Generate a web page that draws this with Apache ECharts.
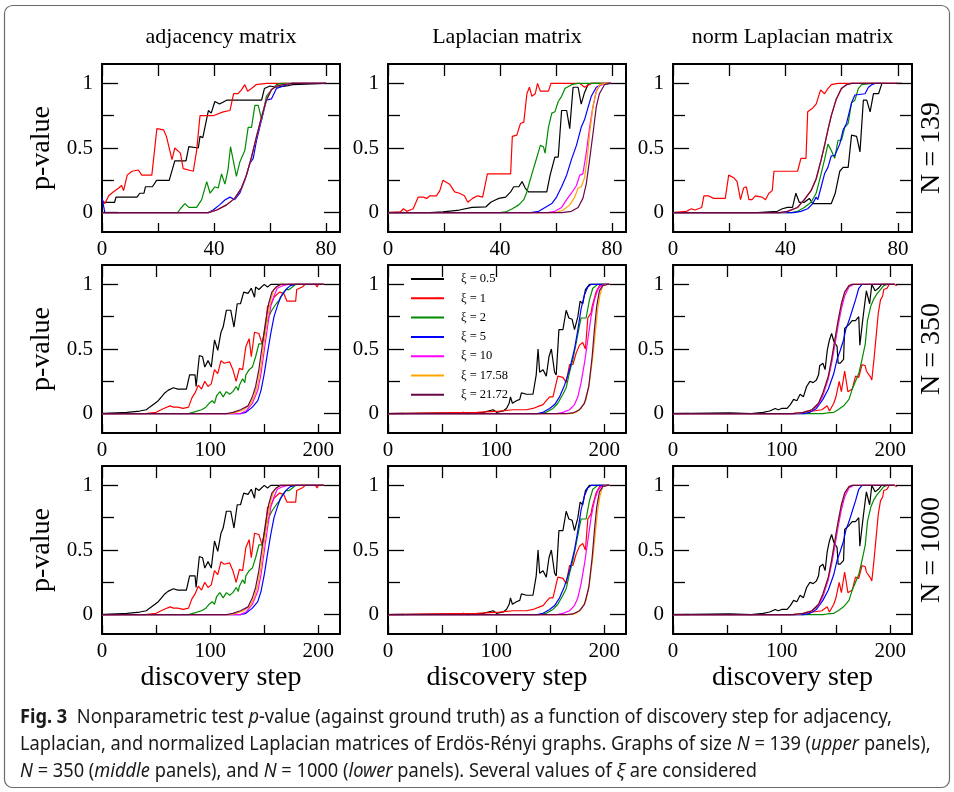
<!DOCTYPE html>
<html><head><meta charset="utf-8">
<script src="https://cdn.jsdelivr.net/npm/echarts@6/dist/echarts.min.js"></script>
<style>html,body{margin:0;padding:0;background:#fff}#c{width:954px;height:792px}</style>
</head><body><div id="c"></div><script>
// ---------- DATA ----------
const seriesNames = ['ξ = 0.5','ξ = 1','ξ = 2','ξ = 5','ξ = 10','ξ = 17.58','ξ = 21.72'];
const columnTitles = ['adjacency matrix','Laplacian matrix','norm Laplacian matrix'];
const rowLabels = ['N = 139','N = 350','N = 1000'];
const xAxisTitle = 'discovery step';
const yAxisTitle = 'p-value';
const xTickValuesSmall = [0,20,40,60,80];
const xLabelValuesSmall = [0,40,80];
const xTickValuesBig = [0,50,100,150,200];
const xLabelValuesBig = [0,100,200];
const yMajorValues = [0,0.5,1];
const yMinorValues = [0.25,0.75];

// adjacency, N = 139
const adj139_xi05 = [[0,0.08],[4.5,0.08],[5,0.12],[12.5,0.12],[13.5,0.15],[15,0.15],[15.5,0.2],[18,0.2],[19.5,0.25],[24,0.25],[26,0.4],[30,0.4],[31,0.51],[34.4,0.5],[35,0.59],[36,0.58],[38,0.79],[39,0.77],[40.3,0.86],[42,0.84],[44.5,0.87],[57,0.87],[58,0.96],[60,0.98],[62.3,0.97],[66,0.98],[68,0.99],[80,1]];
const adj139_xi1 = [[0,0.1],[1,0.07],[2.4,0.13],[4,0.16],[6,0.19],[7,0.21],[7.7,0.17],[9,0.29],[10.7,0.32],[13,0.33],[14.2,0.29],[17.8,0.29],[19.6,0.65],[22,0.64],[23,0.59],[25,0.41],[26,0.5],[28,0.46],[29,0.34],[32.6,0.32],[33.8,0.48],[35,0.75],[39.7,0.75],[43.3,0.78],[45.7,0.79],[47,0.92],[48.6,0.92],[49.8,0.95],[51,0.99],[52,0.94],[53.4,0.96],[55,0.99],[58.7,1],[80,1]];
const adj139_xi2 = [[0,0],[27,0],[28,0.03],[29.6,0.07],[31,0.04],[33.8,0.04],[35.6,0.1],[37.4,0.24],[38.6,0.15],[40.3,0.2],[41.5,0.19],[42.7,0.3],[43.9,0.22],[45,0.33],[45.9,0.51],[48,0.28],[49.2,0.39],[51,0.48],[52.2,0.66],[53.4,0.66],[54.6,0.83],[55.8,0.83],[57,0.72],[58.7,0.9],[60.5,0.95],[62.3,0.99],[64,1],[80,1]];
const adj139_xi5 = [[0,0.12],[1,0],[38,0],[39.7,0.02],[42,0.06],[44,0.1],[45.7,0.12],[47.4,0.1],[49.2,0.15],[51,0.25],[52.8,0.38],[54,0.42],[55.2,0.56],[57,0.72],[58.7,0.87],[60.5,0.88],[62.3,0.96],[66,0.99],[68,1],[80,1]];
const adj139_xi10 = [[0,0],[38,0],[41,0.02],[44.5,0.06],[47.4,0.11],[49.8,0.19],[51.6,0.29],[53.4,0.43],[55.2,0.59],[57,0.74],[58.7,0.87],[60.5,0.95],[62.3,0.98],[64.6,0.99],[68,1],[80,1]];
const adj139_xi1758 = adj139_xi10;
const adj139_xi2172 = adj139_xi10;

// Laplacian, N = 139
const lap139_xi05 = [[0,0],[15,0],[19.6,0.005],[25.5,0.02],[30,0.04],[35,0.045],[36.7,0.08],[38.5,0.1],[39.6,0.11],[42,0.12],[43.8,0.16],[44.9,0.2],[46.7,0.2],[47.9,0.24],[49,0.19],[50.2,0.16],[56.7,0.16],[57.9,0.29],[59.6,0.43],[60.8,0.43],[62,0.79],[63.8,0.79],[64.9,0.65],[66.1,0.97],[67.9,0.97],[69,0.84],[70.2,0.93],[71.4,0.99],[72.6,1],[79.6,1]];
const lap139_xi1 = [[0,0],[4.4,0.005],[5.5,0.03],[6.7,0.01],[9,0.03],[10.8,0.12],[12.6,0.12],[13.8,0.11],[15,0.13],[17.3,0.13],[18.5,0.17],[19.6,0.25],[22,0.22],[23.8,0.16],[25.5,0.15],[27.3,0.13],[28.5,0.08],[30.2,0.11],[32,0.13],[33.8,0.12],[35.5,0.3],[43.8,0.3],[44.4,0.59],[46,0.6],[47.3,0.69],[48.5,0.7],[49.6,0.92],[50.5,0.97],[51.4,0.9],[52.6,0.92],[53.4,1],[54.4,0.94],[57.3,0.94],[58.2,1],[68.5,1],[70.2,0.97],[72.6,1],[79.6,1]];
const lap139_xi2 = [[0,0],[40,0],[42,0.005],[44.4,0.03],[46.7,0.06],[48.5,0.1],[49.6,0.16],[50.2,0.21],[51.4,0.3],[53.2,0.43],[54.4,0.52],[55.5,0.51],[56.1,0.46],[57.3,0.66],[58.5,0.77],[59.6,0.78],[60.8,0.86],[62,0.9],[63.2,0.96],[65.5,0.99],[67.9,1],[79.6,1]];
const lap139_xi5 = [[0,0],[51,0],[53.8,0.01],[56.1,0.04],[58.5,0.07],[60.2,0.12],[62,0.2],[63.8,0.29],[65.5,0.41],[67.3,0.52],[69,0.66],[70.2,0.72],[71.4,0.81],[72.6,0.9],[74.4,0.97],[76,0.99],[79.6,1]];
const lap139_xi10 = [[0,0],[57,0],[59.6,0.01],[62,0.04],[63.8,0.1],[65.5,0.15],[67.3,0.21],[68.5,0.29],[69.6,0.3],[70.8,0.46],[72,0.66],[73.2,0.82],[74.4,0.94],[75.5,0.98],[77.3,1],[79.6,1]];
const lap139_xi1758 = [[0,0],[60,0],[62.6,0.02],[64.9,0.06],[66.7,0.12],[67.9,0.19],[69,0.2],[70.2,0.27],[71.2,0.43],[72,0.61],[73.2,0.82],[74.4,0.94],[75.5,0.99],[77.9,1],[79.6,1]];
const lap139_xi2172 = [[0,0],[62,0],[65.5,0.01],[67.9,0.04],[69.6,0.11],[70.8,0.22],[72,0.41],[73.2,0.61],[74.4,0.82],[75.5,0.92],[77.3,0.99],[79,1],[79.6,1]];

// norm Laplacian, N = 139
const nlap139_xi05 = [[0,0],[30,0],[37.1,0.01],[38.9,0.03],[40.7,0.04],[42.5,0.04],[43.7,0.15],[44.9,0.08],[46.7,0.08],[48.5,0.11],[49.7,0.07],[56.3,0.07],[57.7,0.15],[59.3,0.32],[60.5,0.35],[62.3,0.35],[63.5,0.6],[65.3,0.59],[66.5,0.47],[67.7,0.87],[68.9,0.87],[70.1,0.78],[71.3,0.92],[73.1,0.92],[74.3,1],[81.4,1]];
const nlap139_xi1 = [[0,0],[4.8,0.01],[6.6,0.03],[7.8,0.02],[9,0.03],[10.2,0.04],[11,0.13],[12.6,0.13],[14.4,0.11],[18.6,0.11],[19.8,0.29],[21.6,0.27],[22.8,0.24],[24,0.1],[25.1,0.19],[26.1,0.2],[27,0.1],[28.1,0.1],[29.3,0.13],[31.7,0.12],[32.9,0.1],[34.1,0.15],[35.3,0.17],[35.9,0.32],[44.3,0.32],[45.5,0.42],[47.3,0.42],[47.9,0.78],[49.7,0.81],[50.9,0.84],[52.5,0.95],[53.9,0.92],[55.1,0.96],[56.3,0.99],[58.7,1],[75,1],[75.4,0.99],[76,1]];
const nlap139_xi2 = [[0,0],[42,0],[44.3,0.01],[46.7,0.04],[49.1,0.08],[50.9,0.15],[52.1,0.25],[53.9,0.41],[55.1,0.53],[56.3,0.48],[57.5,0.42],[58.7,0.56],[59.9,0.56],[61.1,0.66],[62.3,0.69],[63.5,0.85],[64.7,0.87],[65.9,0.96],[67.1,0.99],[70.7,1],[74,1]];
const nlap139_xi5 = [[0,0],[43,0],[45.5,0.01],[47.9,0.03],[49.7,0.07],[50.9,0.12],[51.5,0.1],[52.7,0.2],[53.9,0.3],[55.1,0.35],[56.3,0.44],[57.5,0.44],[59.3,0.53],[60.5,0.64],[61.7,0.69],[63.5,0.85],[64.7,0.91],[68.3,0.92],[69.5,0.97],[70.7,0.99],[71.9,1],[74,1]];
const nlap139_xi10 = [[0,0],[38,0],[40.7,0.01],[44.3,0.04],[46.7,0.1],[49.1,0.17],[50.9,0.26],[52.7,0.41],[53.9,0.52],[55.1,0.64],[56.3,0.75],[58.1,0.88],[59.9,0.96],[61.7,0.99],[63.5,1],[80,1]];
const nlap139_xi1758 = nlap139_xi10;
const nlap139_xi2172 = nlap139_xi10;

// adjacency, N = 350 (N = 1000 panel reads the same)
const adj350_xi05 = [[0,0],[23,0.01],[35,0.02],[41,0.03],[44,0.05],[49,0.08],[52,0.1],[55,0.13],[58,0.16],[61,0.18],[66,0.2],[70,0.19],[75,0.19],[78,0.19],[81,0.3],[86,0.3],[87,0.21],[90,0.45],[93,0.44],[95,0.36],[98,0.41],[101,0.36],[104,0.57],[107,0.49],[110,0.63],[112,0.67],[115,0.8],[119,0.8],[122,0.67],[125,0.85],[128,0.85],[131,0.94],[135,0.93],[138,0.97],[141,0.9],[142,0.98],[145,0.96],[150,1],[153,0.98],[156,1],[205,1]];
const adj350_xi1 = [[0,0],[40,0],[41,0.005],[50,0.01],[57,0.04],[63,0.06],[66,0.05],[70,0.05],[75,0.04],[80,0.05],[83,0.12],[86,0.16],[89,0.22],[92,0.19],[95,0.25],[98,0.21],[101,0.23],[104,0.34],[107,0.31],[110,0.41],[113,0.39],[118,0.4],[121,0.34],[124,0.25],[127,0.35],[130,0.34],[133,0.52],[136,0.58],[138,0.44],[141,0.63],[145,0.62],[148,0.54],[151,0.66],[153,0.83],[156,0.84],[159,0.9],[164,0.94],[168,0.93],[171,0.87],[179,0.87],[180,0.96],[185,0.98],[188,1],[197,1],[199,0.98],[200,1],[205,1]];
const adj350_xi2 = [[0,0],[80,0],[84,0.01],[92,0.03],[96,0.05],[99,0.08],[102,0.1],[104,0.08],[106,0.14],[109,0.17],[112,0.13],[115,0.17],[118,0.15],[121,0.17],[124,0.21],[126,0.18],[127,0.22],[130,0.27],[132,0.24],[133,0.3],[136,0.34],[139,0.36],[142,0.44],[145,0.54],[148,0.54],[151,0.67],[154,0.75],[157,0.8],[161,0.85],[164,0.88],[167,0.93],[170,0.96],[173,0.96],[176,0.98],[179,1],[205,1]];
const adj350_xi5 = [[0,0],[128,0],[133,0.01],[139,0.05],[144,0.1],[147,0.18],[150,0.31],[153,0.47],[156,0.62],[159,0.75],[162,0.83],[165,0.9],[170,0.96],[174,0.99],[179,1],[205,1]];
const adj350_xi10 = [[0,0],[128,0],[133,0.02],[139,0.08],[144,0.18],[147,0.31],[150,0.49],[153,0.67],[156,0.83],[159,0.91],[162,0.97],[167,0.99],[172,1],[205,1]];
const adj350_xi1758 = [[0,0],[118,0],[124,0.01],[131,0.03],[137,0.07],[141,0.14],[144,0.23],[147,0.37],[150,0.56],[153,0.74],[156,0.88],[159,0.96],[163,0.99],[167,1],[205,1]];
const adj350_xi2172 = [[0,0],[115,0],[121,0.01],[128,0.03],[135,0.06],[139,0.13],[142,0.21],[145,0.34],[148,0.52],[151,0.7],[154,0.85],[157,0.94],[161,0.98],[165,1],[205,1]];

// Laplacian, N = 350 (N = 1000 panel reads the same)
const lap350_xi05 = [[0,0],[66.6,0.005],[69.6,0.01],[72.7,0],[88,0.01],[92.6,0.02],[97.2,0.03],[100.3,0.01],[106.4,0.02],[109.5,0.04],[112,0.08],[113.2,0.13],[115,0.08],[118.7,0.1],[121.8,0.11],[123.3,0.16],[128,0.15],[134,0.15],[137,0.3],[138.7,0.5],[140.2,0.32],[143.3,0.34],[146.3,0.29],[148.8,0.44],[151,0.5],[154,0.32],[155.5,0.3],[158,0.65],[161.7,0.65],[164.7,0.8],[167.2,0.74],[170.2,0.73],[172.4,0.65],[175.5,0.75],[177.6,0.87],[180,0.85],[182.5,0.96],[186.2,1],[204.6,1]];
const lap350_xi1 = [[0,0],[82,0.01],[103,0.02],[115.6,0.03],[128,0.03],[134,0.04],[140.2,0.06],[143.3,0.07],[146.3,0.1],[149.4,0.13],[152.5,0.13],[157,0.29],[161.7,0.28],[164.7,0.24],[167.8,0.38],[170.9,0.38],[174,0.47],[177,0.53],[180,0.55],[182.5,0.5],[184.7,0.74],[187.7,0.78],[188.7,0.83],[192.3,0.94],[195.4,0.99],[198.5,1],[204.6,1]];
const lap350_xi2 = [[0,0],[140,0],[146.3,0.01],[152.5,0.04],[157,0.08],[161.7,0.15],[164.7,0.2],[167.8,0.32],[170.9,0.42],[174,0.55],[177,0.68],[178.5,0.74],[183.1,0.74],[186.2,0.88],[189.3,0.97],[193.9,1],[204.6,1]];
const lap350_xi5 = [[0,0],[138,0],[143.3,0.01],[149.4,0.04],[154,0.07],[158.6,0.13],[163.2,0.22],[167.8,0.34],[172.4,0.5],[175.5,0.65],[178.5,0.81],[181.6,0.92],[184.7,0.98],[187.7,1],[204.6,1]];
const lap350_xi10 = [[0,0],[156,0],[161.7,0.01],[167.8,0.03],[172.4,0.07],[175.5,0.13],[178.5,0.24],[181.6,0.39],[184.7,0.57],[187.7,0.75],[190.8,0.88],[193.9,0.96],[196.9,0.99],[201.5,1],[204.6,1]];
const lap350_xi1758 = [[0,0],[168,0],[174,0.01],[178.5,0.04],[183.1,0.11],[186.2,0.24],[189.3,0.44],[191.7,0.63],[193.9,0.81],[196,0.92],[198.5,0.99],[201.5,1],[204.6,1]];
const lap350_xi2172 = [[0,0],[165,0],[170.9,0.005],[177,0.03],[181.6,0.08],[185.6,0.21],[188.7,0.44],[190.8,0.65],[192.9,0.83],[195.4,0.95],[198.5,0.99],[203,1],[204.6,1]];

// norm Laplacian, N = 350 (N = 1000 panel reads the same)
const nlap350_xi05 = [[0,0],[52,0.005],[72,0],[83,0.01],[89,0.02],[94,0.04],[97,0.03],[100,0.04],[105,0.04],[108,0.07],[111,0.11],[114,0.1],[117,0.15],[120,0.13],[123,0.21],[126,0.25],[129,0.24],[132,0.26],[134,0.3],[135,0.37],[138,0.39],[140,0.34],[142,0.49],[144,0.57],[146,0.62],[148,0.56],[151,0.52],[152,0.39],[154,0.39],[157,0.42],[158,0.66],[162,0.69],[165,0.72],[168,0.72],[171,0.75],[172,0.53],[175,0.75],[178,0.95],[181,0.85],[183,1],[186,0.95],[189,0.97],[192,1],[198,1]];
const nlap350_xi1 = [[0,0],[110,0],[117,0.005],[129,0.02],[137,0.03],[142,0.06],[144,0.02],[148,0.08],[150,0.13],[153,0.25],[155,0.17],[158,0.33],[161,0.17],[165,0.19],[168,0.29],[171,0.28],[174,0.38],[177,0.37],[178,0.33],[182,0.28],[183,0.26],[185,0.42],[187,0.6],[189,0.78],[191,0.88],[193,0.91],[194,0.96],[197,0.97],[199,1],[204,1],[206,0.99]];
const nlap350_xi2 = [[0,0],[138,0],[142,0.005],[148,0.01],[152,0.03],[157,0.06],[162,0.11],[165,0.19],[168,0.25],[171,0.31],[174,0.42],[177,0.54],[179,0.72],[182,0.83],[185,0.89],[188,0.93],[191,0.96],[194,0.99],[197,1],[204,1]];
const nlap350_xi5 = [[0,0],[120,0],[126,0.01],[132,0.04],[138,0.11],[143,0.19],[148,0.31],[151,0.42],[154,0.49],[157,0.57],[159,0.65],[162,0.72],[165,0.8],[168,0.88],[171,0.97],[174,1],[204,1]];
const nlap350_xi10 = [[0,0],[113,0],[120,0.01],[128,0.03],[134,0.07],[138,0.14],[143,0.27],[146,0.39],[149,0.53],[152,0.68],[155,0.81],[158,0.91],[162,0.98],[166,1],[204,1]];
const nlap350_xi1758 = [[0,0],[110,0],[120,0.01],[128,0.03],[134,0.08],[138,0.16],[143,0.29],[146,0.42],[149,0.57],[152,0.72],[155,0.85],[158,0.94],[162,0.99],[165,1],[204,1]];
const nlap350_xi2172 = nlap350_xi1758;

const adj139 = [adj139_xi05,adj139_xi1,adj139_xi2,adj139_xi5,adj139_xi10,adj139_xi1758,adj139_xi2172];
const lap139 = [lap139_xi05,lap139_xi1,lap139_xi2,lap139_xi5,lap139_xi10,lap139_xi1758,lap139_xi2172];
const nlap139 = [nlap139_xi05,nlap139_xi1,nlap139_xi2,nlap139_xi5,nlap139_xi10,nlap139_xi1758,nlap139_xi2172];
const adj350 = [adj350_xi05,adj350_xi1,adj350_xi2,adj350_xi5,adj350_xi10,adj350_xi1758,adj350_xi2172];
const lap350 = [lap350_xi05,lap350_xi1,lap350_xi2,lap350_xi5,lap350_xi10,lap350_xi1758,lap350_xi2172];
const nlap350 = [nlap350_xi05,nlap350_xi1,nlap350_xi2,nlap350_xi5,nlap350_xi10,nlap350_xi1758,nlap350_xi2172];
const adj1000 = adj350, lap1000 = lap350, nlap1000 = nlap350;

// ---------- STYLE / LAYOUT ----------
const colors = ['#000000','#ff0000','#008b00','#0000ff','#ff00ff','#ffa500','#670748'];
const SERIF = "'Liberation Serif','Times New Roman','DejaVu Serif',serif";
const SANS = "'Noto Sans','Liberation Sans',sans-serif";
const colLeft = [102,388,673], colWidth = [238,238,239], rowTop = [64,265,466], rowHeight = 168;

const panels = [
  {data:adj139, xMax:85, ticks:xTickValuesSmall, labels:xLabelValuesSmall},
  {data:lap139, xMax:85, ticks:xTickValuesSmall, labels:xLabelValuesSmall},
  {data:nlap139, xMax:85, ticks:xTickValuesSmall, labels:xLabelValuesSmall},
  {data:adj350, xMax:220, ticks:xTickValuesBig, labels:xLabelValuesBig},
  {data:lap350, xMax:220, ticks:xTickValuesBig, labels:xLabelValuesBig},
  {data:nlap350, xMax:220, ticks:xTickValuesBig, labels:xLabelValuesBig},
  {data:adj1000, xMax:220, ticks:xTickValuesBig, labels:xLabelValuesBig},
  {data:lap1000, xMax:220, ticks:xTickValuesBig, labels:xLabelValuesBig},
  {data:nlap1000, xMax:220, ticks:xTickValuesBig, labels:xLabelValuesBig}
];

const grids=[], xAxes=[], yAxes=[], series=[];
const frame = {show:true, onZero:false, lineStyle:{color:'#000', width:2}};
const tickLine = {color:'#000', width:1.3};
panels.forEach((p,i)=>{
  const r = Math.floor(i/3), c = i%3;
  grids.push({left:colLeft[c], top:rowTop[r], width:colWidth[c], height:rowHeight, containLabel:false});
  const xb = {gridIndex:i, type:'value', min:0, max:p.xMax, position:'bottom',
    axisLine:frame, splitLine:{show:false},
    axisTick:{show:true, inside:true, length:9, customValues:p.ticks, lineStyle:tickLine},
    axisLabel:{show:true, customValues:p.labels, fontFamily:SERIF, fontSize:21, color:'#000', margin:7}};
  const xt = {gridIndex:i, type:'value', min:0, max:p.xMax, position:'top',
    axisLine:frame, splitLine:{show:false},
    axisTick:{show:true, inside:true, length:12, customValues:p.ticks, lineStyle:tickLine},
    axisLabel:{show:false}};
  xAxes.push(xb, xt);
  const mk = (pos, vals, len, line, lbl) => ({gridIndex:i, type:'value', min:-0.15, max:1.15, position:pos,
    axisLine: line ? frame : {show:false, onZero:false}, splitLine:{show:false},
    axisTick:{show:true, inside:true, length:len, customValues:vals, lineStyle:tickLine},
    axisLabel: lbl ? {show:true, customValues:yMajorValues, fontFamily:SERIF, fontSize:21, color:'#000', margin:9} : {show:false}});
  yAxes.push(mk('left', yMajorValues, 16, true, true), mk('left', yMinorValues, 12, false, false),
             mk('right', yMajorValues, 16, true, false), mk('right', yMinorValues, 12, false, false));
  p.data.forEach((d,k)=>{
    series.push({name:seriesNames[k], type:'line', xAxisIndex:2*i, yAxisIndex:4*i, data:d,
      showSymbol:false, symbol:'none', smooth:false, animation:false, clip:true,
      color:colors[k], lineStyle:{color:colors[k], width:1.2}, emphasis:{disabled:true}, z:2+k});
  });
});

const graphics = [
  {type:'rect', shape:{x:4.5,y:5.5,width:945,height:782,r:8}, style:{fill:'none', stroke:'#6b6b6b', lineWidth:1.2}, z:-1}
];
columnTitles.forEach((t,c)=>graphics.push({type:'text', x:colLeft[c]+colWidth[c]/2, y:37,
  style:{text:t, font:'22px '+SERIF, fill:'#000', textAlign:'center', textVerticalAlign:'middle'}}));
rowLabels.forEach((t,r)=>{
  const yc = rowTop[r]+rowHeight/2;
  graphics.push({type:'text', x:42, y:yc, rotation:Math.PI/2,
    style:{text:yAxisTitle, font:'28px '+SERIF, fill:'#000', textAlign:'center', textVerticalAlign:'middle'}});
  graphics.push({type:'text', x:932, y:yc, rotation:Math.PI/2,
    style:{text:t, font:'28px '+SERIF, fill:'#000', textAlign:'center', textVerticalAlign:'middle'}});
});
colLeft.forEach((l,c)=>graphics.push({type:'text', x:l+colWidth[c]/2, y:678,
  style:{text:xAxisTitle, font:'28px '+SERIF, fill:'#000', textAlign:'center', textVerticalAlign:'middle'}}));

const captionLines = [
  '{b|Fig. 3}  Nonparametric test {i|p}-value (against ground truth) as a function of discovery step for adjacency,',
  'Laplacian, and normalized Laplacian matrices of Erdös-Rényi graphs. Graphs of size {i|N} = 139 ({i|upper} panels),',
  '{i|N} = 350 ({i|middle} panels), and {i|N} = 1000 ({i|lower} panels). Several values of {i|ξ} are considered'
];
const capY = [718, 745, 772];
captionLines.forEach((t,j)=>graphics.push({type:'text', x:20, y:capY[j], scaleX:0.96, scaleY:1,
  style:{text:t, fontFamily:SANS, fontSize:19, fill:'#1a1a1a', textAlign:'left', textVerticalAlign:'middle',
    rich:{b:{fontFamily:SANS, fontSize:19, fontWeight:'bold', fill:'#1a1a1a'}, i:{fontFamily:SANS, fontSize:19, fontStyle:'italic', fill:'#1a1a1a'}}}}));

const option = {
  backgroundColor:'#fff',
  animation:false,
  grid:grids, xAxis:xAxes, yAxis:yAxes, series:series,
  legend:{show:true, data:seriesNames, orient:'vertical', left:411, top:272, padding:0, itemGap:5.3,
    itemWidth:33, itemHeight:2, icon:'rect', selectedMode:false,
    textStyle:{fontFamily:SERIF, fontSize:12.5, color:'#000', lineHeight:14, padding:[0,0,0,12]}},
  graphic:graphics
};
const chart = echarts.init(document.getElementById('c'), null, {renderer:'canvas'});
chart.setOption(option);
</script></body></html>
